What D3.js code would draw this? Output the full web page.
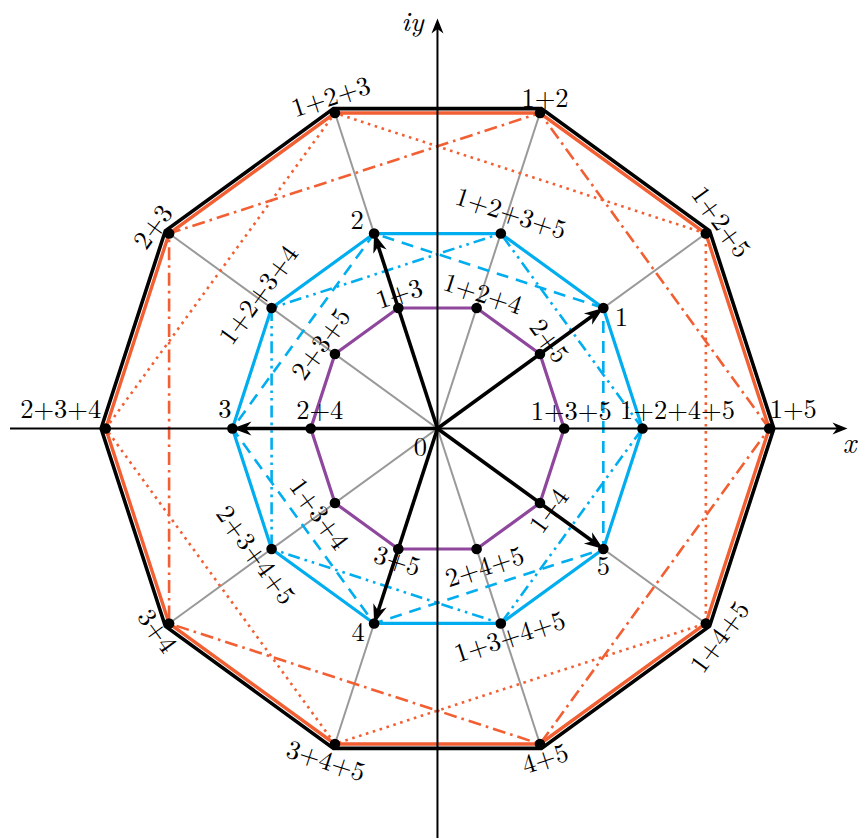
<!DOCTYPE html>
<html>
<head>
<meta charset="utf-8">
<script src="https://cdn.jsdelivr.net/npm/d3@7"></script>
<style>
  body { margin: 0; background: #fff; }
</style>
</head>
<body>
<svg id="chart" width="858" height="838"></svg>
<script>
// Directions (degrees) of the five unit vectors 1..5 (fifth roots of unity, rotated)
const rootAngles = [36, 108, 180, 252, 324];
const rootNames = ["1", "2", "3", "4", "5"];

// Vertices of the three decagons, counter-clockwise from the positive x axis.
// Each vertex is the sum of the unit vectors named in its label.
const innerSums  = ["1+3+5", "2+5", "1+2+4", "1+3", "2+3+5", "2+4", "1+3+4", "3+5", "2+4+5", "1+4"];
const middleSums = ["1+2+4+5", "1", "1+2+3+5", "2", "1+2+3+4", "3", "2+3+4+5", "4", "1+3+4+5", "5"];
const outerSums  = ["1+5", "1+2+5", "1+2", "1+2+3", "2+3", "2+3+4", "3+4", "3+4+5", "4+5", "1+4+5"];

// Pentagons drawn inside the decagons (indices into the decagon vertex lists)
const oddVertices  = [1, 3, 5, 7, 9];
const evenVertices = [0, 2, 4, 6, 8];

// Diameters drawn in grey (outer-ring vertex index -> opposite vertex)
const diameterStarts = [1, 2, 3, 4];

// Axis extents
const xDomain = [-2.085, 2.0];
const yDomain = [-2.0, 2.0];

// Label placement: pixel offset from the vertex and rotation (degrees)
const innerPlace  = [[7,-17,0],[9,-13,54],[6,-14,18],[1,-14,-18],[-14,-10,-54],[9,-18,0],[-16,11,54],[-1,12,18],[8,18,-18],[9,8,-54]];
const middlePlace = [[35,-17.5,0],[18,10,0],[10,-20,18],[-17,-13.5,0],[-13,-13,-54],[-7.5,-18.5,0],[-16,6,54],[-16,9.5,0],[9,13.5,-18],[0,18,0]];
const outerPlace  = [[24,-18.5,0],[15,-11.5,54],[5,-15,0],[-4,-16,-18],[-16,-6.5,-54],[-45,-18.5,0],[-12,7.5,54],[-9,17,18],[5,15,-18],[14,13.5,-54]];

const FONT = "'Latin Modern Roman', 'CMU Serif', 'Liberation Serif', 'DejaVu Serif', 'Noto Serif', 'FreeSerif', 'Times New Roman', serif";
const LABEL_SIZE = 26.5;
const COLORS = {
  black: "#000",
  orange: "#f15f33",
  blue: "#00adef",
  purple: "#8e479c",
  grey: "#999"
};

const svg = d3.select("#chart");
const x = d3.scaleLinear().domain(xDomain).range([10, 847.5]);
const y = d3.scaleLinear().domain(yDomain).range([838.5, 18.5]);

const rad = d => d * Math.PI / 180;

// Complex sum of the unit vectors listed in a label such as "1+2+4"
function sumOf(label) {
  return label.split("+").reduce((acc, k) => {
    const a = rad(rootAngles[+k - 1]);
    return [acc[0] + Math.cos(a), acc[1] + Math.sin(a)];
  }, [0, 0]);
}
const toPx = p => [x(p[0]), y(p[1])];

const inner  = innerSums.map(sumOf);
const middle = middleSums.map(sumOf);
const outer  = outerSums.map(sumOf);

const line = d3.line().x(d => x(d[0])).y(d => y(d[1]));
const closed = pts => line(pts) + "Z";

// Grey diameters through the origin
const gDiam = svg.append("g");
diameterStarts.forEach(i => {
  const a = outer[i], b = outer[(i + 5) % 10];
  gDiam.append("line")
    .attr("x1", x(a[0])).attr("y1", y(a[1]))
    .attr("x2", x(b[0])).attr("y2", y(b[1]))
    .attr("stroke", COLORS.grey).attr("stroke-width", 2);
});

// Decagons
const outline = 1.014; // black outline sits just outside the orange decagon
svg.append("path").attr("d", closed(outer.map(p => [p[0] * outline, p[1] * outline])))
  .attr("fill", "none").attr("stroke", COLORS.black).attr("stroke-width", 3.6)
  .attr("stroke-linejoin", "miter");
svg.append("path").attr("d", closed(outer))
  .attr("fill", "none").attr("stroke", COLORS.orange).attr("stroke-width", 3.4);
svg.append("path").attr("d", closed(middle))
  .attr("fill", "none").attr("stroke", COLORS.blue).attr("stroke-width", 3.2);
svg.append("path").attr("d", closed(inner))
  .attr("fill", "none").attr("stroke", COLORS.purple).attr("stroke-width", 3.2);

// Pentagons
function pentagon(ring, idx, color, dash) {
  svg.append("path").attr("d", closed(idx.map(i => ring[i])))
    .attr("fill", "none").attr("stroke", color).attr("stroke-width", 2.6)
    .attr("stroke-dasharray", dash);
}
pentagon(outer, oddVertices, COLORS.orange, "2.6,4.6");
pentagon(outer, evenVertices, COLORS.orange, "13,5,2.6,5");
pentagon(middle, oddVertices, COLORS.blue, "12,8");
pentagon(middle, evenVertices, COLORS.blue, "12,5,2.6,5,2.6,5");

// Stealth-style arrowhead ending at (tx, ty), pointing along unit direction (ux, uy)
function arrowHead(tx, ty, ux, uy, L, W) {
  const nx = -uy, ny = ux;
  const bx = tx - L * ux, by = ty - L * uy;
  const mx = tx - 0.7 * L * ux, my = ty - 0.7 * L * uy;
  return `M${tx},${ty}L${bx + nx * W / 2},${by + ny * W / 2}L${mx},${my}L${bx - nx * W / 2},${by - ny * W / 2}Z`;
}

// Axes
const gAxes = svg.append("g");
gAxes.append("line")
  .attr("x1", x(xDomain[0])).attr("y1", y(0))
  .attr("x2", x(xDomain[1]) - 8).attr("y2", y(0))
  .attr("stroke", COLORS.black).attr("stroke-width", 2);
gAxes.append("path").attr("d", arrowHead(x(xDomain[1]), y(0), 1, 0, 15, 12)).attr("fill", COLORS.black);
gAxes.append("line")
  .attr("x1", x(0)).attr("y1", y(yDomain[0]))
  .attr("x2", x(0)).attr("y2", y(yDomain[1]) + 8)
  .attr("stroke", COLORS.black).attr("stroke-width", 2);
gAxes.append("path").attr("d", arrowHead(x(0), y(yDomain[1]), 0, -1, 15, 12)).attr("fill", COLORS.black);

gAxes.append("text").attr("x", x(xDomain[1]) + 2).attr("y", y(0) + 24)
  .attr("font-family", FONT)
  .attr("text-anchor", "middle").attr("font-style", "italic").attr("font-size", 29).text("x");
gAxes.append("text").attr("x", x(0) - 25).attr("y", y(yDomain[1]) + 12)
  .attr("font-family", FONT)
  .attr("text-anchor", "middle").attr("font-style", "italic").attr("font-size", 28).text("iy");
gAxes.append("text").attr("x", x(0) - 17).attr("y", y(0) + 27)
  .attr("font-family", FONT)
  .attr("text-anchor", "middle").attr("font-size", LABEL_SIZE).text("0");

// Vectors 1..5 from the origin
const gVec = svg.append("g");
rootNames.forEach(name => {
  const p = sumOf(name);
  const [tx, ty] = toPx(p);
  const ox = x(0), oy = y(0);
  const len = Math.hypot(tx - ox, ty - oy);
  const ux = (tx - ox) / len, uy = (ty - oy) / len;
  gVec.append("line")
    .attr("x1", ox).attr("y1", oy)
    .attr("x2", tx - 12 * ux).attr("y2", ty - 12 * uy)
    .attr("stroke", COLORS.black).attr("stroke-width", 3.6);
  gVec.append("path").attr("d", arrowHead(tx, ty, ux, uy, 19, 14)).attr("fill", COLORS.black);
});

// Vertex dots
const allPts = inner.concat(middle, outer);
svg.append("g").selectAll("circle").data(allPts).join("circle")
  .attr("cx", d => x(d[0])).attr("cy", d => y(d[1])).attr("r", 5.3).attr("fill", COLORS.black);

// Vertex labels
function labels(ring, names, place) {
  const g = svg.append("g");
  ring.forEach((p, i) => {
    const [px, py] = toPx(p);
    const [dx, dy, rot] = place[i];
    g.append("text")
      .attr("transform", `translate(${px + dx},${py + dy}) rotate(${rot})`)
      .attr("font-family", FONT)
      .attr("text-anchor", "middle").attr("dy", "0.32em")
      .attr("font-size", LABEL_SIZE).text(names[i]);
  });
}
labels(inner, innerSums, innerPlace);
labels(middle, middleSums, middlePlace);
labels(outer, outerSums, outerPlace);
</script>
</body>
</html>
